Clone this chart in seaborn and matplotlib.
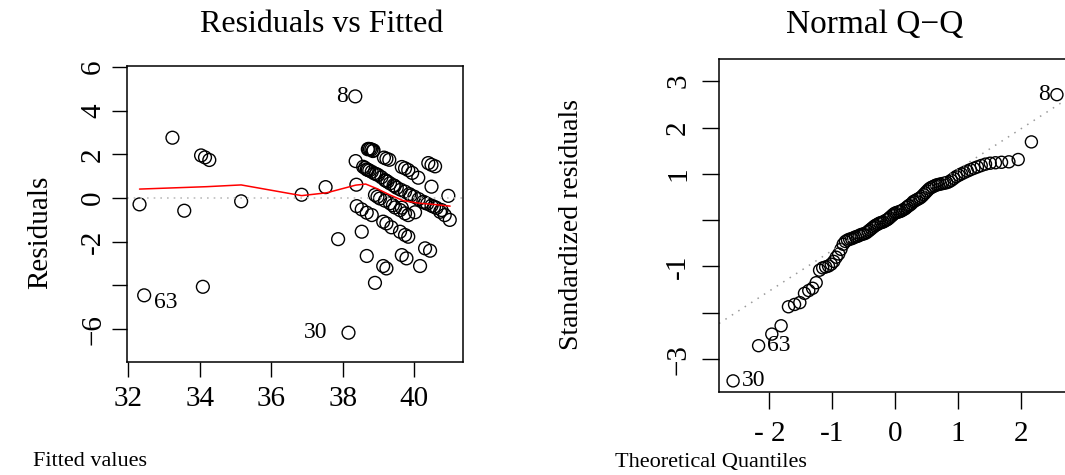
import matplotlib
matplotlib.use("Agg")
import matplotlib.pyplot as plt
import seaborn as sns

# Residuals vs Fitted: fitted values and residuals
fitted_vals = [32.32, 33.24, 33.57, 34.04, 34.15, 34.27, 32.45, 34.09, 35.16, 36.85,
               37.52, 37.87, 38.16, 38.35, 38.36, 38.38, 38.72, 38.76, 38.80, 38.86,
               38.84, 39.15, 39.22, 39.30, 39.65, 39.74, 39.83, 39.94, 40.11, 40.39,
               40.48, 40.58, 40.48, 40.95, 38.57, 38.62, 38.67, 38.74, 38.81, 38.88,
               38.99, 39.08, 39.18, 39.25, 39.32, 39.42, 39.51, 39.62, 39.74, 39.86,
               40.00, 40.12, 40.25, 40.36, 40.48, 40.62, 40.76, 38.90, 38.97, 39.04,
               39.18, 39.32, 39.40, 39.46, 39.60, 39.65, 39.74, 39.83, 40.02, 38.39,
               38.53, 38.67, 38.81, 39.13, 39.22, 39.36, 39.60, 39.74, 39.83, 40.72,
               40.85, 40.99, 38.53, 38.67, 39.13, 39.22, 39.65, 39.78, 40.16, 40.30,
               40.44, 38.90, 38.70, 38.93, 39.20, 39.45, 39.90, 40.30, 38.70, 40.55]
resid_vals = [-0.29, 2.76, -0.58, 1.95, 1.86, 1.74, -4.45, -4.06, -0.15, 0.15,
              0.50, -1.88, -6.16, 4.65, 1.69, 0.61, 2.25, 2.24, 2.22, 2.18,
              2.15, 1.85, 1.80, 1.75, 1.42, 1.36, 1.28, 1.15, 0.93, 1.60,
              1.52, 1.45, 0.52, 0.10, 1.43, 1.38, 1.31, 1.26, 1.20, 1.13,
              1.05, 0.95, 0.82, 0.75, 0.67, 0.58, 0.47, 0.38, 0.29, 0.18,
              0.06, -0.05, -0.17, -0.26, -0.35, -0.45, -0.55, 0.14, 0.06, -0.02,
              -0.12, -0.24, -0.33, -0.43, -0.55, -0.44, -0.70, -0.78, -0.65, -0.37,
              -0.52, -0.67, -0.78, -1.08, -1.16, -1.34, -1.54, -1.69, -1.77, -0.63,
              -0.78, -1.00, -1.54, -2.65, -3.11, -3.22, -2.61, -2.76, -3.11, -2.30,
              -2.41, -3.88, 1.29, 1.10, 0.80, 0.55, 0.12, -0.22, 2.23, -0.40]

# red smoother through the residuals
smooth_x = [32.32, 34.20, 35.16, 36.85, 37.55, 38.36, 38.64, 38.94, 39.32, 39.69, 40.16, 40.53, 41.00]
smooth_y = [0.41, 0.52, 0.60, 0.11, 0.24, 0.59, 0.64, 0.44, 0.14, -0.12, -0.24, -0.29, -0.37]

# Normal Q-Q: theoretical quantiles and sorted standardized residuals
theo_q = [-2.576, -2.170, -1.960, -1.812, -1.695, -1.598, -1.514, -1.440, -1.372, -1.311,
          -1.254, -1.200, -1.150, -1.103, -1.058, -1.015, -0.974, -0.935, -0.896, -0.860,
          -0.824, -0.789, -0.755, -0.722, -0.690, -0.659, -0.628, -0.598, -0.568, -0.539,
          -0.510, -0.482, -0.454, -0.426, -0.399, -0.372, -0.345, -0.319, -0.292, -0.266,
          -0.240, -0.215, -0.189, -0.164, -0.138, -0.113, -0.088, -0.063, -0.038, -0.013,
          0.013, 0.038, 0.063, 0.088, 0.113, 0.138, 0.164, 0.189, 0.215, 0.240,
          0.266, 0.292, 0.319, 0.345, 0.372, 0.399, 0.426, 0.454, 0.482, 0.510,
          0.539, 0.568, 0.598, 0.628, 0.659, 0.690, 0.722, 0.755, 0.789, 0.824,
          0.860, 0.896, 0.935, 0.974, 1.015, 1.058, 1.103, 1.150, 1.200, 1.254,
          1.311, 1.372, 1.440, 1.514, 1.598, 1.695, 1.812, 1.960, 2.170, 2.576]
std_resid = [-3.47, -2.71, -2.46, -2.28, -1.87, -1.82, -1.78, -1.58, -1.52, -1.47,
             -1.35, -1.08, -1.03, -1.01, -0.99, -0.95, -0.89, -0.80, -0.73, -0.63,
             -0.52, -0.46, -0.43, -0.41, -0.40, -0.38, -0.36, -0.35, -0.33, -0.31,
             -0.30, -0.29, -0.27, -0.24, -0.21, -0.18, -0.15, -0.12, -0.10, -0.08,
             -0.06, -0.05, -0.04, -0.02, 0.00, 0.02, 0.05, 0.08, 0.11, 0.14,
             0.16, 0.17, 0.18, 0.19, 0.21, 0.23, 0.25, 0.28, 0.31, 0.33,
             0.36, 0.40, 0.42, 0.44, 0.46, 0.48, 0.51, 0.55, 0.59, 0.63,
             0.67, 0.70, 0.72, 0.74, 0.76, 0.77, 0.78, 0.79, 0.80, 0.81,
             0.83, 0.86, 0.90, 0.94, 0.97, 1.00, 1.03, 1.06, 1.09, 1.12,
             1.15, 1.18, 1.21, 1.23, 1.24, 1.25, 1.26, 1.31, 1.69, 2.71]
qq_intercept = 0.22
qq_slope = 0.875

left_yticks = [-6, -4, -2, 0, 2, 4, 6]
left_ylabels = ["\u22126", "", "-2", "0", "2", "4", "6"]
left_xticks = [32, 34, 36, 38, 40]
right_yticks = [-3, -2, -1, 0, 1, 2, 3]
right_ylabels = ["\u22123", "", "-1", "", "1", "2", "3"]
right_xticks = [-2, -1, 0, 1, 2]
right_xlabels = ["- 2", "-1", "0", "1", "2"]

sns.set_style("ticks")
plt.rcParams["font.family"] = ["Liberation Serif", "DejaVu Serif"]
plt.rcParams["axes.linewidth"] = 1.1
for key in ["text.color", "axes.labelcolor", "xtick.color", "ytick.color", "axes.edgecolor"]:
    plt.rcParams[key] = "black"

W, H = 1065, 475
fig = plt.figure(figsize=(W / 100, H / 100), dpi=100)


def box(l, t, r, b):
    return [l / W, 1 - b / H, (r - l) / W, (b - t) / H]


FS = 21

# ---- Residuals vs Fitted
ax1 = fig.add_axes(box(127, 66, 463, 362))
ax1.axhline(0, color="#bebebe", lw=1.2, ls=(0, (1, 3)))
sns.scatterplot(x=fitted_vals, y=resid_vals, ax=ax1, marker="o", s=85,
                facecolor="none", edgecolor="black", linewidth=1.0)
sns.lineplot(x=smooth_x, y=smooth_y, ax=ax1, color="red", lw=1.1,
             sort=False, estimator=None)
ax1.set_xlim(31.97, 41.36)
ax1.set_ylim(-7.5, 6.04)
ax1.set_xticks(left_xticks)
ax1.set_xticklabels([str(v) for v in left_xticks], fontsize=FS)
ax1.set_yticks(left_yticks)
ax1.set_yticklabels(left_ylabels, fontsize=FS, rotation=90, va="center")
ax1.tick_params(axis="x", length=11, width=1, pad=6)
ax1.tick_params(axis="y", length=11, width=1, pad=4)

lab = dict(fontsize=17, textcoords="offset points", va="center")
ax1.annotate("8", (38.35, 4.65), xytext=(-5, 0), ha="right", **lab)
ax1.annotate("63", (32.45, -4.45), xytext=(7, -5), ha="left", **lab)
ax1.annotate("30", (38.16, -6.16), xytext=(-15, 0), ha="right", **lab)

# ---- Normal Q-Q
ax2 = fig.add_axes(box(719, 59, 1071, 392))
ax2.axline((0, qq_intercept), slope=qq_slope, color="#9a9a9a", lw=1.1, ls=(0, (1, 4)))
sns.scatterplot(x=theo_q, y=std_resid, ax=ax2, marker="o", s=75,
                facecolor="none", edgecolor="black", linewidth=1.0)
ax2.set_xlim(-2.80, 2.80)
ax2.set_ylim(-3.71, 3.48)
ax2.set_xticks(right_xticks)
ax2.set_xticklabels(right_xlabels, fontsize=FS)
ax2.set_yticks(right_yticks)
ax2.set_yticklabels(right_ylabels, fontsize=FS, rotation=90, va="center")
ax2.tick_params(axis="x", length=12, width=1, pad=9)
ax2.tick_params(axis="y", length=12, width=1, pad=8)

ax2.annotate("8", (theo_q[-1], std_resid[-1]), xytext=(-5, 0), ha="right", **lab)
ax2.annotate("63", (theo_q[1], std_resid[1]), xytext=(6, 0), ha="left", **lab)
ax2.annotate("30", (theo_q[0], std_resid[0]), xytext=(6, 0), ha="left", **lab)

# titles and axis labels, placed as in the reference
fig.text(322 / W, 1 - 25 / H, "Residuals vs Fitted", fontsize=23, ha="center", va="center")
fig.text(875 / W, 1 - 25 / H, "Normal Q\u2212Q", fontsize=24, ha="center", va="center")
fig.text(40 / W, 1 - 232 / H, "Residuals", fontsize=FS, rotation=90, ha="center", va="center")
fig.text(572 / W, 1 - 225 / H, "Standardized residuals", fontsize=20, rotation=90,
         ha="center", va="center")
fig.text(33 / W, 1 - 462 / H, "Fitted values", fontsize=16, ha="left", va="center")
fig.text(615 / W, 1 - 462 / H, "Theoretical Quantiles", fontsize=16, ha="left", va="center")

fig.savefig("out.png", dpi=100)
